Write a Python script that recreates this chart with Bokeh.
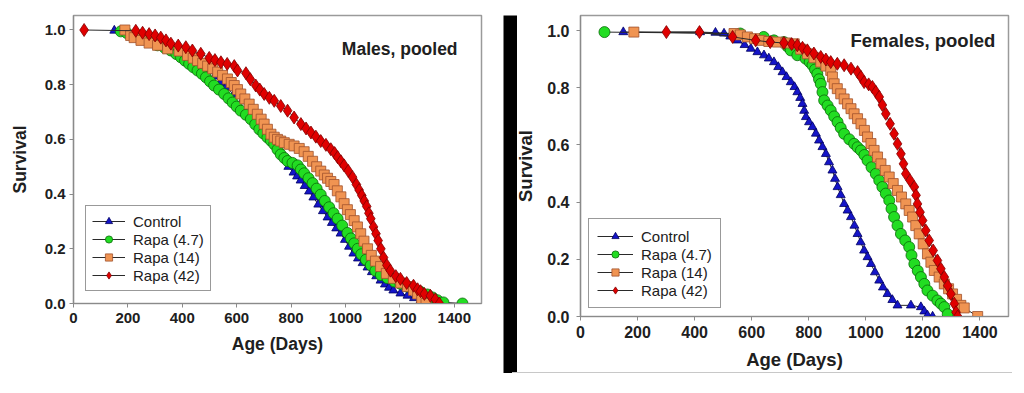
from bokeh.plotting import figure
from bokeh.models import FixedTicker, Legend, LegendItem, Label, Range1d
from bokeh.layouts import row, column
from bokeh.embed import file_html
from bokeh.resources import INLINE

FONT = "Liberation Sans"

# ---------------- data ----------------
x_ticks = [0, 200, 400, 600, 800, 1000, 1200, 1400]
x_tick_labels = ["0", "200", "400", "600", "800", "1000", "1200", "1400"]
y_ticks = [0.0, 0.2, 0.4, 0.6, 0.8, 1.0]
y_tick_labels = ["0.0", "0.2", "0.4", "0.6", "0.8", "1.0"]

series_names = ["Control", "Rapa (4.7)", "Rapa (14)", "Rapa (42)"]

# Males, pooled
m_control_age = [150, 250, 300, 330, 370, 400, 430, 450, 475, 500, 520, 540, 560, 590, 620, 650, 680, 705, 730, 750, 770,
                 790, 809, 822, 835, 850, 866, 882, 900, 917, 934, 950, 966, 982, 998, 1013, 1029, 1046, 1063, 1081,
                 1097, 1113, 1129, 1145, 1160, 1176, 1202, 1228, 1252, 1276, 1290]
m_control_surv = [0.998, 0.975, 0.955, 0.94, 0.93, 0.915, 0.898, 0.885, 0.868, 0.85, 0.83, 0.808, 0.79, 0.765, 0.74, 0.70,
                  0.66, 0.63, 0.60, 0.572, 0.545, 0.50, 0.479, 0.465, 0.45, 0.43, 0.41, 0.388, 0.362, 0.338, 0.315, 0.295,
                  0.275, 0.256, 0.233, 0.208, 0.183, 0.165, 0.148, 0.132, 0.115, 0.10, 0.084, 0.07, 0.058, 0.048, 0.037,
                  0.029, 0.02, 0.011, 0.0]

m_rapa47_age = [174, 196, 248, 280, 309, 335, 358, 378, 395, 410, 425, 440, 456, 472, 487, 502, 517, 535, 554, 570, 585,
                600, 615, 634, 652, 668, 683, 698, 713, 726, 738, 750, 762, 775, 787, 805, 824, 836, 848, 864, 879, 894,
                909, 924, 940, 956, 971, 988, 1007, 1020, 1032, 1045, 1058, 1075, 1093, 1110, 1130, 1154, 1180, 1202,
                1226, 1250, 1275, 1301, 1320, 1338, 1360, 1430]
m_rapa47_surv = [0.995, 0.989, 0.98, 0.965, 0.944, 0.935, 0.925, 0.912, 0.90, 0.888, 0.876, 0.864, 0.852, 0.84, 0.827,
                 0.812, 0.797, 0.782, 0.766, 0.75, 0.735, 0.72, 0.705, 0.69, 0.674, 0.655, 0.637, 0.622, 0.607, 0.595,
                 0.582, 0.563, 0.545, 0.532, 0.521, 0.514, 0.505, 0.49, 0.476, 0.458, 0.44, 0.42, 0.398, 0.375, 0.352,
                 0.33, 0.31, 0.285, 0.258, 0.238, 0.22, 0.20, 0.18, 0.16, 0.14, 0.12, 0.104, 0.093, 0.08, 0.072, 0.062,
                 0.052, 0.043, 0.033, 0.022, 0.012, 0.004, 0.0]

m_rapa14_age = [189, 210, 223, 248, 278, 309, 346, 388, 419, 440, 456, 475, 493, 512, 530, 548, 566, 580, 591, 603, 615,
                630, 646, 661, 676, 690, 701, 713, 726, 738, 750, 762, 775, 793, 811, 830, 848, 863, 879, 894, 909, 922,
                934, 946, 958, 970, 983, 995, 1007, 1018, 1032, 1044, 1056, 1068, 1081, 1095, 1110, 1129, 1150, 1176,
                1203, 1228, 1250, 1265, 1280, 1296]
m_rapa14_surv = [1.0, 0.98, 0.972, 0.962, 0.952, 0.944, 0.931, 0.923, 0.907, 0.897, 0.888, 0.878, 0.868, 0.858, 0.846,
                 0.834, 0.821, 0.808, 0.797, 0.782, 0.766, 0.748, 0.729, 0.71, 0.692, 0.674, 0.656, 0.637, 0.619, 0.608,
                 0.60, 0.594, 0.588, 0.582, 0.576, 0.567, 0.555, 0.538, 0.52, 0.50, 0.484, 0.47, 0.458, 0.446, 0.435,
                 0.412, 0.39, 0.365, 0.343, 0.325, 0.303, 0.28, 0.255, 0.228, 0.20, 0.176, 0.155, 0.135, 0.11, 0.092,
                 0.075, 0.062, 0.048, 0.035, 0.018, 0.0]

m_rapa42_age = [39, 229, 254, 278, 300, 321, 340, 358, 385, 413, 437, 468, 499, 520, 542, 565, 591, 603, 634, 650, 670,
                685, 701, 720, 738, 762, 787, 811, 836, 855, 873, 891, 909, 928, 946, 960, 971, 983, 995, 1010, 1026,
                1040, 1050, 1060, 1069, 1078, 1086, 1093, 1103, 1112, 1120, 1130, 1140, 1152, 1165, 1185, 1202, 1225,
                1250, 1265, 1276, 1290, 1312, 1330, 1345]
m_rapa42_surv = [1.0, 0.997, 0.99, 0.985, 0.98, 0.972, 0.962, 0.95, 0.943, 0.937, 0.925, 0.913, 0.898, 0.89, 0.882,
                 0.876, 0.868, 0.852, 0.842, 0.82, 0.797, 0.782, 0.766, 0.752, 0.741, 0.722, 0.705, 0.68, 0.656, 0.64,
                 0.625, 0.61, 0.594, 0.58, 0.564, 0.55, 0.535, 0.52, 0.505, 0.485, 0.462, 0.435, 0.415, 0.395, 0.375,
                 0.355, 0.33, 0.31, 0.28, 0.255, 0.23, 0.20, 0.168, 0.14, 0.12, 0.10, 0.09, 0.075, 0.065, 0.052, 0.045,
                 0.035, 0.028, 0.015, 0.0]

# Females, pooled
f_control_age = [150, 419, 473, 503, 525, 550, 575, 597, 620, 643, 660, 678, 693, 708, 722, 737, 750, 760, 770, 778, 784,
                 790, 801, 813, 825, 836, 848, 860, 871, 883, 892, 901, 912, 924, 936, 948, 960, 971, 982, 994, 1006,
                 1018, 1032, 1047, 1060, 1076, 1093, 1111, 1158, 1193, 1205, 1216, 1234]
f_control_surv = [0.995, 0.995, 0.993, 0.99, 0.98, 0.966, 0.95, 0.937, 0.925, 0.914, 0.903, 0.89, 0.873, 0.855, 0.838,
                  0.82, 0.803, 0.785, 0.765, 0.744, 0.72, 0.698, 0.68, 0.663, 0.64, 0.616, 0.593, 0.569, 0.54, 0.511,
                  0.482, 0.453, 0.425, 0.394, 0.371, 0.348, 0.318, 0.289, 0.26, 0.231, 0.208, 0.184, 0.155, 0.126,
                  0.102, 0.079, 0.058, 0.039, 0.039, 0.033, 0.018, 0.004, 0.0]

f_rapa47_age = [84, 560, 642, 678, 713, 725, 737, 760, 789, 803, 813, 822, 830, 836, 842, 848, 854, 866, 877, 889, 901,
                912, 924, 942, 959, 971, 983, 995, 1006, 1020, 1035, 1047, 1058, 1070, 1082, 1090, 1099, 1111, 1123,
                1138, 1152, 1160, 1170, 1182, 1193, 1205, 1216, 1234, 1251, 1263, 1275, 1287]
f_rapa47_surv = [0.995, 0.99, 0.978, 0.966, 0.96, 0.945, 0.931, 0.914, 0.902, 0.89, 0.879, 0.864, 0.849, 0.83, 0.814,
                 0.785, 0.756, 0.738, 0.721, 0.70, 0.68, 0.66, 0.639, 0.62, 0.604, 0.592, 0.581, 0.565, 0.546, 0.522,
                 0.499, 0.476, 0.453, 0.43, 0.406, 0.377, 0.348, 0.318, 0.289, 0.266, 0.243, 0.214, 0.184, 0.16, 0.138,
                 0.114, 0.091, 0.073, 0.056, 0.045, 0.033, 0.008]

f_rapa14_age = [187, 538, 560, 585, 610, 632, 660, 690, 720, 749, 772, 795, 818, 842, 860, 877, 883, 889, 900, 912, 924,
                936, 948, 959, 971, 983, 995, 1006, 1018, 1029, 1041, 1053, 1068, 1082, 1096, 1111, 1125, 1140, 1152,
                1164, 1175, 1187, 1201, 1216, 1228, 1240, 1257, 1275, 1290, 1304, 1318, 1333, 1345, 1392]
f_rapa14_surv = [0.995, 0.99, 0.985, 0.978, 0.972, 0.966, 0.962, 0.96, 0.957, 0.954, 0.935, 0.919, 0.905, 0.89, 0.876,
                 0.861, 0.838, 0.814, 0.797, 0.779, 0.761, 0.744, 0.727, 0.709, 0.692, 0.674, 0.651, 0.628, 0.605,
                 0.581, 0.558, 0.534, 0.511, 0.488, 0.465, 0.441, 0.418, 0.394, 0.371, 0.348, 0.318, 0.289, 0.254,
                 0.219, 0.19, 0.161, 0.138, 0.114, 0.097, 0.079, 0.06, 0.039, 0.03, 0.0]

f_rapa42_age = [301, 417, 533, 614, 665, 713, 740, 760, 778, 795, 818, 842, 860, 877, 900, 924, 948, 971, 983, 994, 1010,
                1023, 1035, 1047, 1058, 1070, 1085, 1099, 1111, 1123, 1132, 1140, 1155, 1170, 1176, 1181, 1190, 1199,
                1210, 1222, 1236, 1251, 1263, 1275, 1287, 1298, 1310, 1316, 1322]
f_rapa42_surv = [0.995, 0.995, 0.978, 0.966, 0.96, 0.957, 0.953, 0.949, 0.94, 0.931, 0.92, 0.908, 0.899, 0.89, 0.884,
                 0.879, 0.867, 0.855, 0.838, 0.82, 0.812, 0.803, 0.786, 0.768, 0.74, 0.709, 0.674, 0.639, 0.604, 0.569,
                 0.534, 0.499, 0.476, 0.453, 0.424, 0.394, 0.365, 0.336, 0.301, 0.266, 0.231, 0.196, 0.167, 0.138,
                 0.108, 0.079, 0.045, 0.015, 0.0]

males = [(m_control_age, m_control_surv), (m_rapa47_age, m_rapa47_surv),
         (m_rapa14_age, m_rapa14_surv), (m_rapa42_age, m_rapa42_surv)]
females = [(f_control_age, f_control_surv), (f_rapa47_age, f_rapa47_surv),
           (f_rapa14_age, f_rapa14_surv), (f_rapa42_age, f_rapa42_surv)]

# ---------------- styles ----------------
markers = ["triangle", "circle", "square", "diamond"]
sizes = [9, 11, 10, 13]
fills = ["#1414c8", "#22dd22", "#f09452", "#e00000"]
edges = ["#000060", "#0a6a0a", "#a0522d", "#800000"]


def make_panel(data, title, title_x, title_y, width, height, mb, tick_fs, label_fs, title_fs,
               ystd, ylstd, xstd, xlstd, leg_loc, leg_pad, leg_row, leg_glyph_w):
    p = figure(width=width, height=height, toolbar_location=None, output_backend="svg",
               x_range=Range1d(0, 1500), y_range=Range1d(0, 1.053), title=None,
               min_border_left=mb[0], min_border_right=mb[1], min_border_top=mb[2], min_border_bottom=mb[3])
    p.grid.visible = False
    p.outline_line_color = "#9a9a9a"
    p.outline_line_width = 1.5
    p.background_fill_color = "white"
    p.border_fill_color = "white"

    for ax in (p.xaxis[0], p.yaxis[0]):
        ax.axis_line_color = "#8a8a8a"
        ax.axis_line_width = 1.2
        ax.major_tick_line_color = "#8a8a8a"
        ax.major_tick_in = 0
        ax.major_tick_out = 4
        ax.minor_tick_line_color = None
        ax.major_label_text_font = FONT
        ax.major_label_text_font_style = "bold"
        ax.major_label_text_font_size = tick_fs
        ax.major_label_text_color = "#202020"
        ax.axis_label_text_font = FONT
        ax.axis_label_text_font_style = "bold"
        ax.axis_label_text_font_size = label_fs
        ax.axis_label_text_color = "#202020"

    p.xaxis.ticker = FixedTicker(ticks=x_ticks)
    p.xaxis.major_label_overrides = dict(zip(x_ticks, x_tick_labels))
    p.yaxis.ticker = FixedTicker(ticks=y_ticks)
    p.yaxis.major_label_overrides = dict(zip(y_ticks, y_tick_labels))
    p.xaxis.axis_label = "Age (Days)"
    p.yaxis.axis_label = "Survival"
    p.yaxis.major_label_standoff = ystd
    p.yaxis.axis_label_standoff = ylstd
    p.xaxis.major_label_standoff = xstd
    p.xaxis.axis_label_standoff = xlstd

    items = []
    for i, (ages, surv) in enumerate(data):
        lr = p.line(ages, surv, line_color="#2a2a2a", line_width=1)
        sr = p.scatter(ages, surv, marker=markers[i], size=sizes[i], fill_color=fills[i],
                       line_color=edges[i], line_width=0.8)
        items.append(LegendItem(label=series_names[i], renderers=[lr, sr]))

    legend = Legend(items=items, location=leg_loc)
    legend.label_text_font = FONT
    legend.label_text_font_size = "15px"
    legend.label_text_color = "#202020"
    legend.glyph_width = leg_glyph_w
    legend.glyph_height = leg_row
    legend.label_height = leg_row
    legend.label_standoff = 8
    legend.padding = leg_pad
    legend.spacing = 0
    legend.margin = 0
    legend.border_line_color = "#333333"
    legend.border_line_width = 1.5
    legend.background_fill_color = "white"
    legend.background_fill_alpha = 1
    p.add_layout(legend)

    p.add_layout(Label(x=title_x, y=title_y, text=title, text_align="right", text_baseline="middle",
                       text_font=FONT, text_font_style="bold", text_font_size=title_fs, text_color="#202020"))
    return p


p1 = make_panel(males, "Males, pooled", 1412, 0.929, 503, 371, (73, 22, 15, 68),
                "15px", "17.5px", "17.5px", 4, 12, 5, 8, (12, 12), 6, 18, 33)

bar = figure(width=14, height=373, toolbar_location=None, output_backend="svg", title=None,
             x_axis_location=None, y_axis_location=None,
             min_border_left=0, min_border_right=0, min_border_top=15, min_border_bottom=0)
bar.grid.visible = False
bar.background_fill_color = "black"
bar.border_fill_color = "white"
bar.outline_line_color = None

p2 = make_panel(females, "Females, pooled", 1454, 0.967, 505, 373, (68, 4, 15, 57),
                "16px", "18.5px", "18.5px", 7, 8, 5, 8, (8, 8), 8, 18, 36)
p2.border_fill_alpha = 0
p2.margin = (0, 0, 0, -5)
p2.styles = {"border-bottom": "1px solid #c8c8c8"}

layout = row(column(p1), column(bar), column(p2))

open("out.html", "w").write(file_html(layout, INLINE))
